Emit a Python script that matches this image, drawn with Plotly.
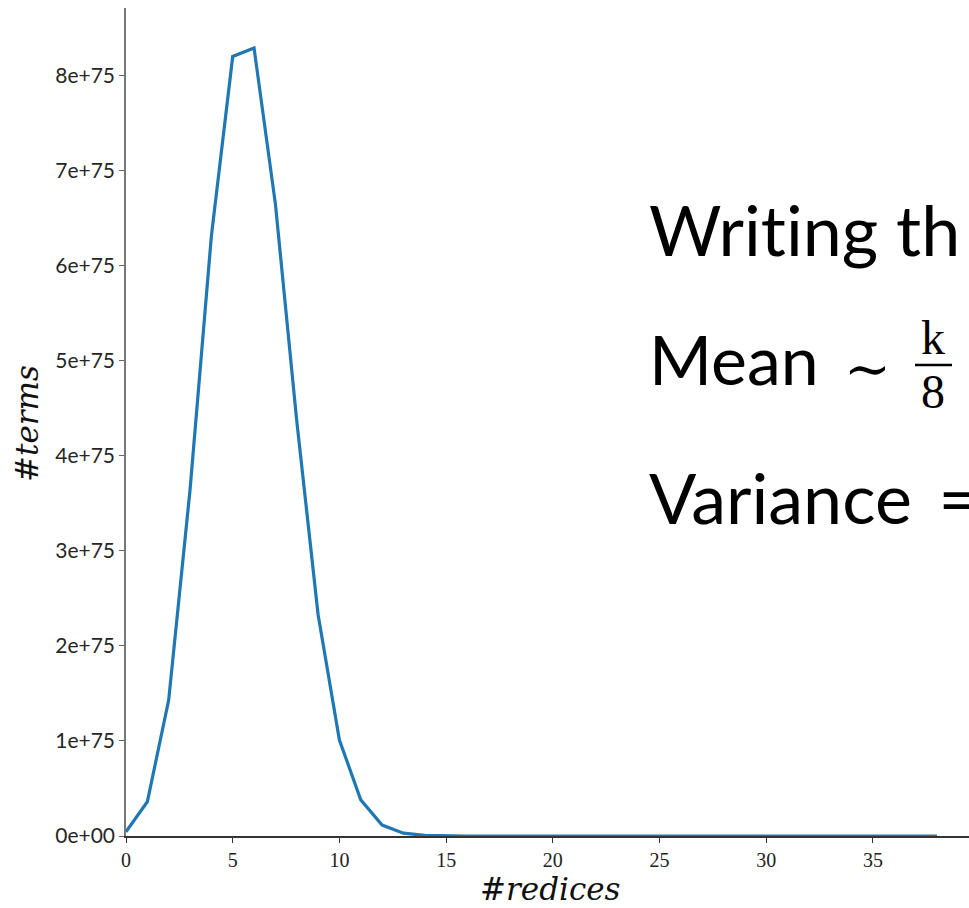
import plotly.graph_objects as go

# number of redices per term
redices = list(range(39))
# number of terms having that many redices
terms = [
    0.045e75, 0.36e75, 1.43e75, 3.64e75, 6.31e75, 8.20e75, 8.29e75, 6.65e75,
    4.37e75, 2.33e75, 1.01e75, 0.38e75, 0.115e75, 0.03e75, 0.006e75, 0.001e75,
    0.0002e75, 0.00003e75, 0.0, 0.0, 0.0, 0.0, 0.0, 0.0, 0.0, 0.0, 0.0, 0.0,
    0.0, 0.0, 0.0, 0.0, 0.0, 0.0, 0.0, 0.0, 0.0, 0.0, 0.0,
]

x_ticks = [0, 5, 10, 15, 20, 25, 30, 35]
y_ticks = [0, 1e75, 2e75, 3e75, 4e75, 5e75, 6e75, 7e75, 8e75]
y_tick_text = ["0e+00", "1e+75", "2e+75", "3e+75", "4e+75",
               "5e+75", "6e+75", "7e+75", "8e+75"]

W, H = 969, 908
L, R, T, B = 126, 0, 8, 72
PW, PH = W - L - R, H - T - B


def px(xp):
    return (xp - L) / PW


def py(yp):
    return (H - B - yp) / PH


fig = go.Figure()
fig.add_trace(go.Scatter(
    x=redices, y=terms, mode="lines",
    line=dict(color="#1f77b4", width=3.2),
    showlegend=False, hoverinfo="skip",
))

serif = "Liberation Serif"
mathit = "DejaVu Serif"
sans = "Lato"
zwnj = "\u200c"  # keeps "t" and "i" from forming a ligature

fig.update_layout(
    width=W, height=H,
    margin=dict(l=L, r=R, t=T, b=B),
    paper_bgcolor="white", plot_bgcolor="white",
    xaxis=dict(
        range=[0, 39.5], tickvals=x_ticks,
        ticks="outside", ticklen=5, tickwidth=1.2, tickcolor="#333",
        showline=True, linecolor="#333", linewidth=1.5,
        showgrid=False, zeroline=False, ticklabelstandoff=0,
        tickfont=dict(family=serif, size=20, color="#222"),
    ),
    yaxis=dict(
        range=[0, 8.71e75], tickvals=y_ticks, ticktext=y_tick_text,
        ticks="outside", ticklen=5, tickwidth=1.2, tickcolor="#666",
        showline=True, linecolor="#777", linewidth=1.5,
        showgrid=False, zeroline=False,
        tickfont=dict(family=sans, size=21, color="#262626"),
    ),
)

annotations = [
    dict(text="<i>#redices</i>", x=px(550), y=py(889), xanchor="center",
         yanchor="middle", font=dict(family=mathit, size=31, color="#111")),
    dict(text="<i>#terms</i>", x=px(27), y=py(424), xanchor="center",
         yanchor="middle", textangle=-90,
         font=dict(family=mathit, size=31, color="#111")),
    dict(text="Wri" + zwnj + "t" + zwnj + "ing th", x=px(647), y=py(229),
         xanchor="left", yanchor="middle",
         font=dict(family=sans, size=70, color="black")),
    dict(text="Mean", x=px(647), y=py(358), xanchor="left",
         yanchor="middle", font=dict(family=sans, size=68, color="black")),
    dict(text="\u223c", x=px(867), y=py(368), xanchor="center",
         yanchor="middle", font=dict(family=mathit, size=56, color="black")),
    dict(text="k", x=px(933), y=py(337), xanchor="center",
         yanchor="middle", font=dict(family=serif, size=48, color="black")),
    dict(text="8", x=px(933), y=py(392), xanchor="center",
         yanchor="middle", font=dict(family=serif, size=48, color="black")),
    dict(text="Variance \u2009=", x=px(647), y=py(497), xanchor="left",
         yanchor="middle", font=dict(family=sans, size=70, color="black")),
]
for a in annotations:
    a.update(xref="paper", yref="paper", showarrow=False)
fig.update_layout(annotations=annotations)

# fraction bar of k/8
fig.add_shape(type="line", xref="paper", yref="paper",
              x0=px(915), x1=px(952), y0=py(365), y1=py(365),
              line=dict(color="black", width=2.5))

fig.write_html("out.html")
